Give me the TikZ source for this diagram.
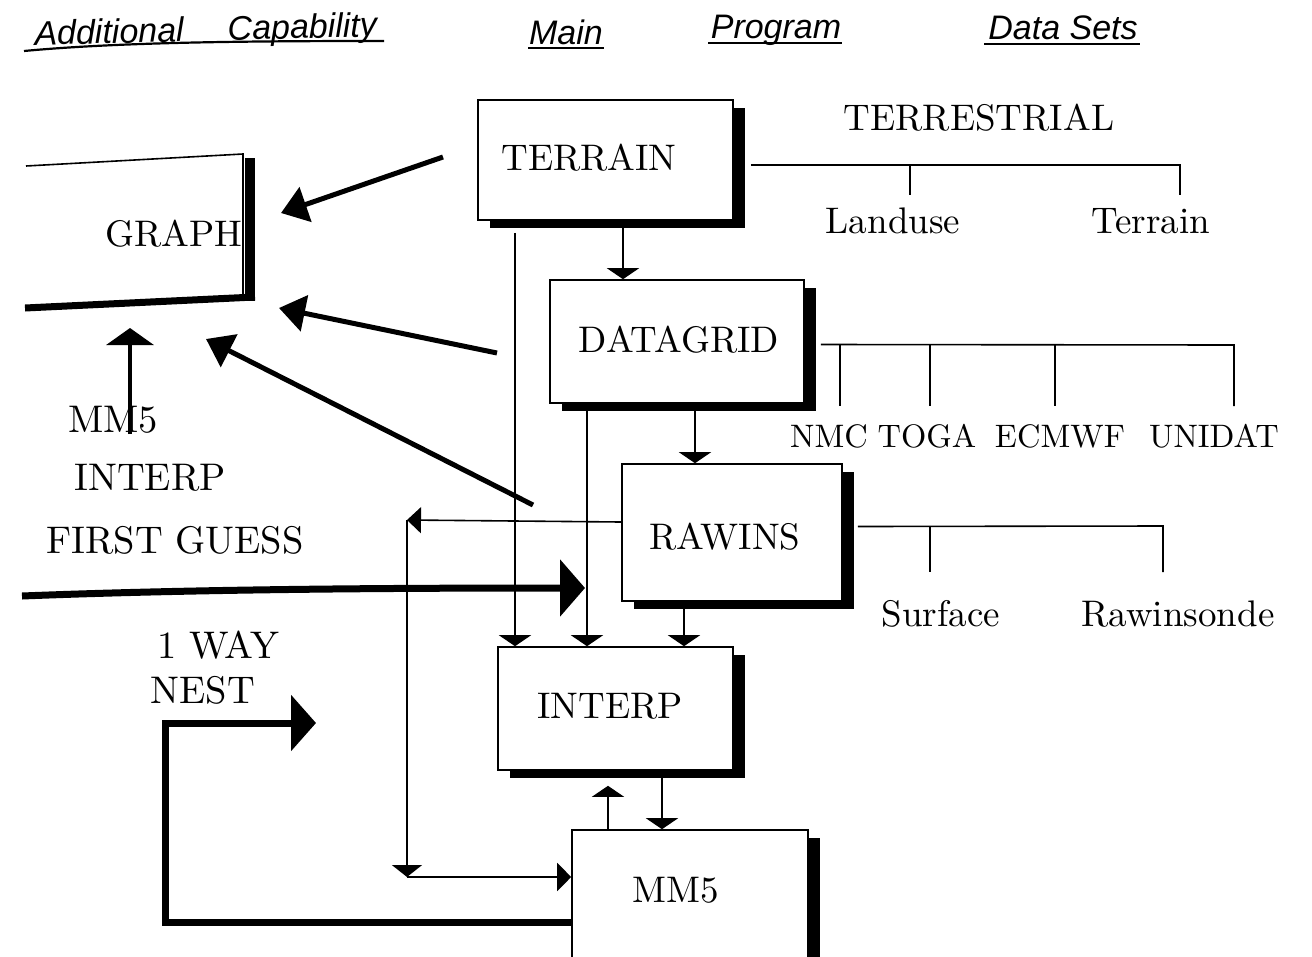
\documentclass[tikz,border=0pt]{standalone}
\usepackage{fontspec}
\setsansfont{Liberation Sans}
\usetikzlibrary{arrows.meta,shadows}
\newcommand\mybig[1]{\scalebox{3.7}{#1}}
\newcommand\myside[1]{\scalebox{3.85}{#1}}
\newcommand\mysmall[1]{\scalebox{3.25}{#1}}
\begin{document}
\begin{tikzpicture}[x=1pt,y=-1pt,
  box/.style={draw, line width=1.6pt, fill=white, inner sep=0pt,
    general shadow={fill=black, shadow xshift=12pt, shadow yshift=-8pt}},
  lbl/.style={inner sep=0pt, anchor=base},
  hdr/.style={font=\fontsize{34}{38}\selectfont\sffamily\itshape, inner sep=0pt, anchor=base},
  uline/.style={line width=2.2pt},
  thin/.style={line width=1.6pt},
  flow/.style={thin, -{Triangle[length=11pt,width=32pt]}},
  garrow/.style={line width=5pt, -{Triangle[length=26pt,width=36pt]}},
  fat/.style={line width=7pt, line join=miter, -{Triangle[length=25pt,width=55pt]}}
]
\useasboundingbox (0,0) rectangle (1312,956);
\clip (0,0) rectangle (1312,956);

% header
\node[hdr, rotate=1.5] (hadd) at (206,41) {Additional\hspace{44pt}Capability};
\node[hdr] (hmain) at (566,44) {Main};
\node[hdr] (hprog) at (776,38) {Program};
\node[hdr] (hdata) at (1063,39) {Data Sets};
\draw[uline] (24,51) .. controls (120,42) and (250,41) .. (384,41);
\draw[uline] (528,48) -- (604,48);
\draw[uline] (708,43) -- (842,43);
\draw[uline] (984,44) -- (1140,44);

% main boxes
\node[box, minimum width=255, minimum height=120] (terrain) at (605.5,160) {};
\node[box, minimum width=254, minimum height=123] (datagrid) at (677,341.5) {};
\node[box, minimum width=220, minimum height=137] (rawins) at (732,532.5) {};
\node[box, minimum width=235, minimum height=123] (interp) at (615.5,708.5) {};
\node[box, minimum width=236, minimum height=140] (mm5) at (690,900) {};

\node[lbl] (terrainT) at (589,170) {\mybig{TERRAIN}};
\node[lbl] (datagridT) at (679,352) {\mybig{DATAGRID}};
\node[lbl] (rawinsT) at (725,549) {\mybig{RAWINS}};
\node[lbl] (interpT) at (610,718) {\mybig{INTERP}};
\node[lbl] (mm5T) at (676,902) {\mybig{MM5}};

% GRAPH open box
\draw[thin] (26,166) -- (243,154) -- (243,295);
\draw[line width=10pt] (250,158) -- (250,301);
\draw[line width=7pt] (25,308) -- (255,297);
\node[lbl] (graphT) at (174,246) {\mybig{GRAPH}};

% left labels
\node[lbl] (lmm5) at (113,432) {\myside{MM5}};
\node[lbl] (linterp) at (150,490) {\myside{INTERP}};
\node[lbl] (lfg) at (175,553) {\myside{FIRST GUESS}};
\node[lbl] (lway) at (218,658) {\myside{1 WAY}};
\node[lbl] (lnest) at (203,703) {\myside{NEST}};

% arrows to GRAPH
\coordinate (g1s) at (443,157); \coordinate (g1e) at (281,213);
\coordinate (g2s) at (497,353); \coordinate (g2e) at (279,308);
\coordinate (g3s) at (533,505); \coordinate (g3e) at (206,339);
\coordinate (g4s) at (130,434); \coordinate (g4e) at (130,328);
\draw[garrow] (g1s) -- (g1e);
\draw[garrow] (g2s) -- (g2e);
\draw[garrow] (g3s) -- (g3e);
\draw[line width=4pt, -{Triangle[length=17pt,width=47pt]}] (g4s) -- (g4e);

% main flow
\draw[flow] (terrain.south -| 623,0) -- (datagrid.north -| 623,0);
\draw[flow] (datagrid.south -| 695,0) -- (rawins.north -| 695,0);
\draw[flow] (rawins.south -| 684,0) -- (interp.north -| 684,0);
\draw[flow] (interp.south -| 662,0) -- (mm5.north -| 662,0);
\draw[flow] (mm5.north -| 608,0) -- ([yshift=-15pt]interp.south -| 608,0);
\draw[flow] ([yshift=-12pt]terrain.south -| 515,0) -- (interp.north -| 515,0);
\draw[flow] ([yshift=-6pt]datagrid.south -| 587,0) -- (interp.north -| 587,0);

% rawins -> mm5 loop
\coordinate (c1) at (407,520);
\coordinate (c2) at (407,877);
\draw[thin, -{Triangle[length=14pt,width=26pt]}] (rawins.west |- 0,522) -- (c1);
\draw[thin, -{Triangle[length=12pt,width=30pt]}] (c1) -- (c2);
\draw[thin, -{Triangle[length=14pt,width=28pt]}] (c2) -- (mm5.west |- 0,877);

% FIRST GUESS arrow
\coordinate (fg1) at (22,596); \coordinate (fg2) at (585,588);
\draw[line width=7pt, -{Triangle[length=25pt,width=56pt]}] (fg1) .. controls (200,589) and (400,588) .. (fg2);

% 1 WAY NEST arrow
\coordinate (nest1) at (165,922); \coordinate (nest2) at (165,723); \coordinate (nest3) at (316,723);
\draw[fat] (mm5.west |- 0,922) -- (nest1) -- (nest2) -- (nest3);

% data sets: terrestrial
\node[lbl] (terr) at (979,130) {\mybig{TERRESTRIAL}};
\node[lbl] (landuse) at (893,233) {\mybig{Landuse}};
\node[lbl] (terrainD) at (1151,233) {\mybig{Terrain}};
\coordinate (ta) at (910,165); \coordinate (tb) at (1180,165);
\draw[thin] ([shift={(17pt,-5pt)}]terrain.east) -- (tb) -- (1180,195);
\draw[thin] (ta) -- (910,195);

% data sets: datagrid
\node[lbl] (nmc) at (829,447) {\mysmall{NMC}};
\node[lbl] (toga) at (927,447) {\mysmall{TOGA}};
\node[lbl] (ecmwf) at (1060,447) {\mysmall{ECMWF}};
\node[lbl] (unidat) at (1214,447) {\mysmall{UNIDAT}};
\coordinate (da) at (1234,345);
\draw[thin] ([shift={(16pt,-3pt)}]datagrid.east) -- (da) -- (1234,406);
\draw[thin] (840,345) -- (840,406);
\draw[thin] (930,345) -- (930,406);
\draw[thin] (1055,345) -- (1055,406);

% data sets: rawins
\node[lbl] (surface) at (941,626) {\mybig{Surface}};
\node[lbl] (rawinsonde) at (1178,626) {\mybig{Rawinsonde}};
\coordinate (ra) at (1163,526);
\draw[thin] ([shift={(15pt,6pt)}]rawins.east) -- (ra) -- (1163,572);
\draw[thin] (930,526) -- (930,572);
\end{tikzpicture}
\end{document}
